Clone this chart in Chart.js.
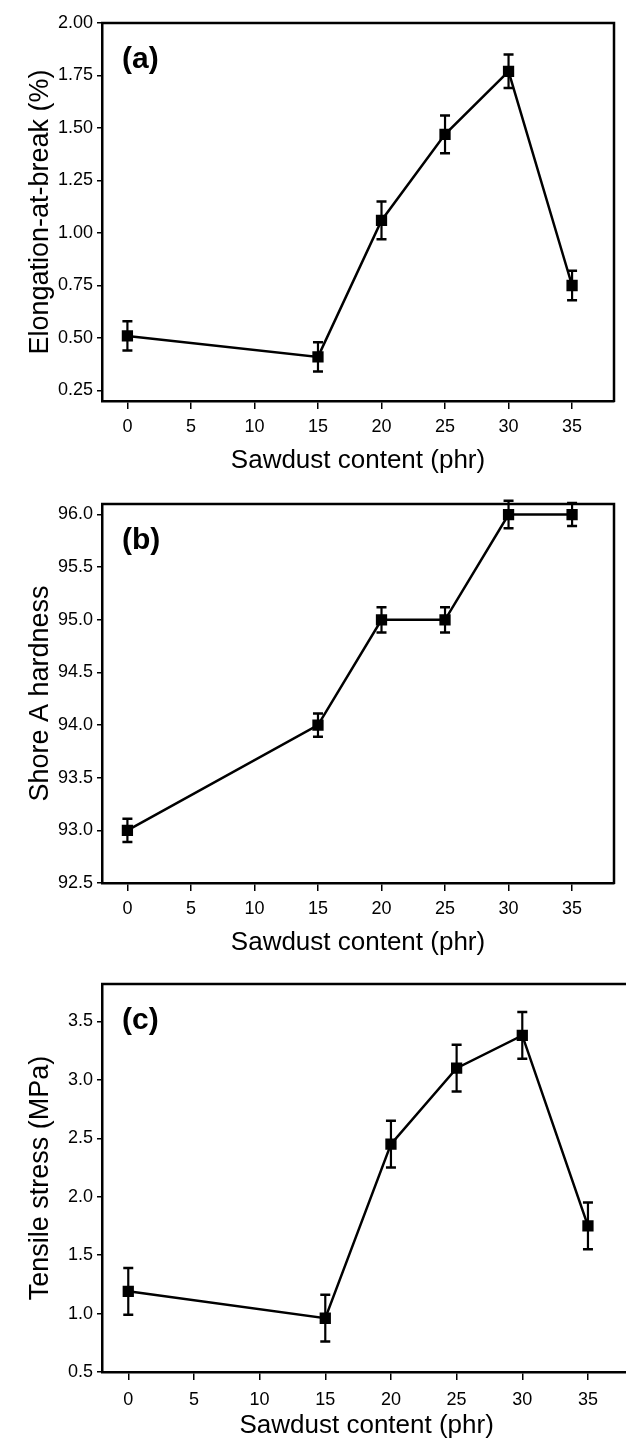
<!DOCTYPE html>
<html>
<head>
<meta charset="utf-8">
<script src="https://cdn.jsdelivr.net/npm/chart.js@4/dist/chart.umd.min.js"></script>
<style>
  html, body { margin: 0; padding: 0; background: #fff; overflow: hidden; }
  body { width: 626px; height: 1442px; position: relative; }
  canvas { position: absolute; left: 0; }
</style>
</head>
<body>
<canvas id="chartA" width="626" height="480" style="top:0px"></canvas>
<canvas id="chartB" width="626" height="480" style="top:480px"></canvas>
<canvas id="chartC" width="640" height="482" style="top:960px"></canvas>
<script>
var Content = [0, 15, 20, 25, 30, 35];
var xTicks  = [0, 5, 10, 15, 20, 25, 30, 35];

var Elongation    = [0.51, 0.41, 1.06, 1.47, 1.77, 0.75];
var ElongationErr = [0.07, 0.07, 0.09, 0.09, 0.08, 0.07];
var elongationTicks = [0.25, 0.50, 0.75, 1.00, 1.25, 1.50, 1.75, 2.00];

var Hardness    = [93.0, 94.0, 95.0, 95.0, 96.0, 96.0];
var HardnessErr = [0.11, 0.11, 0.12, 0.12, 0.13, 0.11];
var hardnessTicks = [92.5, 93.0, 93.5, 94.0, 94.5, 95.0, 95.5, 96.0];

var Stress    = [1.19, 0.96, 2.45, 3.10, 3.38, 1.75];
var StressErr = [0.20, 0.20, 0.20, 0.20, 0.20, 0.20];
var stressTicks = [0.5, 1.0, 1.5, 2.0, 2.5, 3.0, 3.5];

Chart.defaults.font.family = '"Liberation Sans", Arial, sans-serif';
Chart.defaults.color = '#000';

// box round the plot and the (a)/(b)/(c) tag
var framePlugin = {
  id: 'frame',
  afterDraw: function (chart, args, opts) {
    var a = chart.chartArea, ctx = chart.ctx;
    ctx.save();
    ctx.strokeStyle = '#000';
    ctx.lineWidth = 2.5;
    ctx.beginPath();
    ctx.moveTo(a.left - 1, a.top);
    ctx.lineTo(a.right, a.top);
    ctx.lineTo(a.right, a.bottom + 1);
    ctx.stroke();
    ctx.fillStyle = '#000';
    ctx.font = 'bold 30px "Liberation Sans", Arial, sans-serif';
    ctx.textBaseline = 'middle';
    ctx.fillText(opts.tag, a.left + 20, a.top + 37);
    ctx.restore();
  }
};

// error bars, read from dataset.errors
var errorBars = {
  id: 'errorBars',
  afterDatasetsDraw: function (chart) {
    var ctx = chart.ctx, xs = chart.scales.x, ys = chart.scales.y;
    var ds = chart.data.datasets[0];
    ctx.save();
    ctx.strokeStyle = '#000';
    ds.data.forEach(function (p, i) {
      var x = xs.getPixelForValue(p.x);
      var top = ys.getPixelForValue(p.y + ds.errors[i]);
      var bot = ys.getPixelForValue(p.y - ds.errors[i]);
      ctx.lineWidth = 2.2;
      ctx.beginPath();
      ctx.moveTo(x, top); ctx.lineTo(x, bot);
      ctx.stroke();
      ctx.lineWidth = 2.5;
      ctx.beginPath();
      ctx.moveTo(x - 5, top); ctx.lineTo(x + 5, top);
      ctx.moveTo(x - 5, bot); ctx.lineTo(x + 5, bot);
      ctx.stroke();
    });
    ctx.restore();
  }
};

function makePanel(id, p) {
  return new Chart(document.getElementById(id), {
    type: 'line',
    data: {
      datasets: [{
        data: Content.map(function (c, i) { return {x: c, y: p.values[i]}; }),
        errors: p.errors,
        borderColor: '#000',
        borderWidth: 2.5,
        pointStyle: 'rect',
        pointRadius: 6.2,
        pointBackgroundColor: '#000',
        pointBorderColor: '#000',
        fill: false,
        tension: 0
      }]
    },
    options: {
      responsive: false,
      animation: false,
      layout: { padding: { top: p.top, right: p.right, left: 0, bottom: 0 } },
      plugins: {
        legend: { display: false },
        tooltip: { enabled: false },
        frame: { tag: p.tag }
      },
      scales: {
        x: {
          type: 'linear',
          min: -2, max: 38.3,
          afterBuildTicks: function (s) { s.ticks = xTicks.map(function (v) { return {value: v}; }); },
          afterFit: function (s) { s.height = p.xHeight; },
          grid: { drawOnChartArea: false, tickLength: 8, color: '#000', lineWidth: 1.5 },
          border: { color: '#000', width: 2.5 },
          ticks: { color: '#000', font: { size: 18 }, padding: p.xPad, autoSkip: false, maxRotation: 0 },
          title: { display: true, text: 'Sawdust content (phr)', color: '#000', font: { size: 26 }, padding: { top: 0, bottom: p.titlePad } }
        },
        y: {
          min: p.yMin, max: p.yMax,
          afterBuildTicks: function (s) { s.ticks = p.yTicks.map(function (v) { return {value: v}; }); },
          afterFit: function (s) { s.width = 102; },
          grid: { drawOnChartArea: false, tickLength: 5, color: '#000', lineWidth: 1.5 },
          border: { color: '#000', width: 2.5 },
          ticks: { color: '#000', font: { size: 18 }, padding: 4, autoSkip: false,
                   callback: function (v) { return v.toFixed(p.digits); } },
          title: { display: true, text: p.yTitle, color: '#000', font: { size: 27 }, padding: { top: 24, bottom: 0 } }
        }
      }
    },
    plugins: [framePlugin, errorBars]
  });
}

makePanel('chartA', {
  tag: '(a)', yTitle: 'Elongation-at-break (%)',
  values: Elongation, errors: ElongationErr,
  yMin: 0.2, yMax: 2.0, yTicks: elongationTicks, digits: 2,
  top: 23, right: 12, xHeight: 79, xPad: 7, titlePad: 4
});

makePanel('chartB', {
  tag: '(b)', yTitle: 'Shore A hardness',
  values: Hardness, errors: HardnessErr,
  yMin: 92.5, yMax: 96.1, yTicks: hardnessTicks, digits: 1,
  top: 24, right: 12, xHeight: 77, xPad: 7, titlePad: 2
});

makePanel('chartC', {
  tag: '(c)', yTitle: 'Tensile stress (MPa)',
  values: Stress, errors: StressErr,
  yMin: 0.5, yMax: 3.82, yTicks: stressTicks, digits: 1,
  top: 24, right: 6, xHeight: 70, xPad: 9, titlePad: 1
});
</script>
</body>
</html>
